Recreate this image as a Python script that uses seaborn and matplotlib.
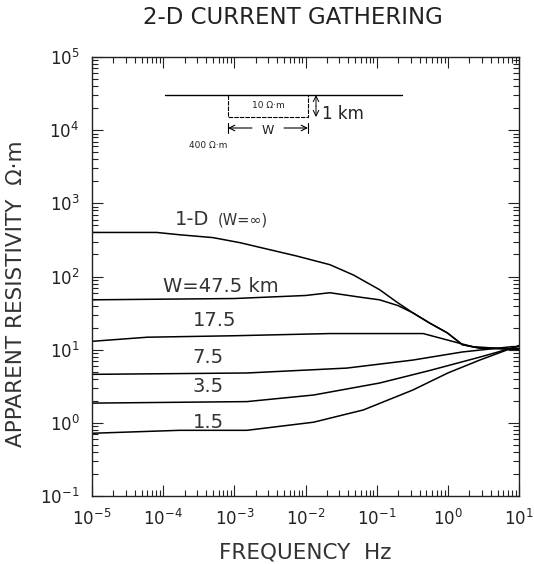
import numpy as np
import pandas as pd
import matplotlib
matplotlib.use("Agg")
import matplotlib.pyplot as plt
import seaborn as sns
from matplotlib.ticker import LogLocator, NullFormatter

# ---- data ----
f_1d = [1e-5, 8.1e-5, 1.7e-4, 5e-4, 1.2e-3, 2.5e-3, 7.6e-3, 2.2e-2, 4.7e-2,
        1.1e-1, 1.9e-1, 3.2e-1, 5.6e-1, 0.98, 1.6, 2.8, 10]
rho_1d = [400, 400, 372, 340, 290, 245, 190, 145, 105, 66, 45, 32, 23, 17,
          11.7, 10.5, 10.3]

f_475 = [1e-5, 1e-4, 1e-3, 1e-2, 2.2e-2, 6e-2, 1.1e-1, 2e-1, 3.2e-1, 5.6e-1,
         0.98, 1.6, 2.8, 10]
rho_475 = [48, 49, 50, 55, 60, 52, 48, 40, 32, 23, 17, 11.7, 10.5, 10.1]

f_175 = [1e-5, 6e-5, 1e-3, 2.2e-2, 4.5e-1, 1.0, 2.2, 10]
rho_175 = [13, 14.8, 15.5, 16.6, 16.6, 13.5, 11, 10]

f_75 = [1e-5, 1.5e-3, 3.8e-2, 3.2e-1, 1.6, 8, 10]
rho_75 = [4.6, 4.8, 5.6, 7.2, 9.3, 11, 11]

f_35 = [1e-5, 1.5e-3, 1.3e-2, 1.1e-1, 5.6e-1, 2.8, 10]
rho_35 = [1.86, 1.95, 2.4, 3.5, 5.2, 7.9, 11.2]

f_15 = [1e-5, 1.7e-4, 1.5e-3, 1.3e-2, 6.5e-2, 3.2e-1, 1.0, 2.8, 10]
rho_15 = [0.72, 0.79, 0.79, 1.02, 1.5, 2.8, 4.8, 7.2, 11.4]

curve_labels = ["1-D", "W=47.5 km", "17.5", "7.5", "3.5", "1.5"]
x_ticks = [1e-5, 1e-4, 1e-3, 1e-2, 1e-1, 1e0, 1e1]
y_ticks = [1e-1, 1e0, 1e1, 1e2, 1e3, 1e4, 1e5]

frames = []
for name, fx, ry in zip(curve_labels,
                        [f_1d, f_475, f_175, f_75, f_35, f_15],
                        [rho_1d, rho_475, rho_175, rho_75, rho_35, rho_15]):
    frames.append(pd.DataFrame({"freq": fx, "rho": ry, "curve": name}))
df = pd.concat(frames, ignore_index=True)

sns.set_style("ticks")
plt.rcParams['font.family'] = ['DejaVu Sans']

fig = plt.figure(figsize=(5.34, 5.64), dpi=100)
ax = fig.add_axes([92/534, 1-496/564, 427/534, 439/564])

sns.lineplot(data=df, x="freq", y="rho", units="curve", estimator=None,
             color="black", lw=1.1, sort=False, ax=ax, legend=False)

ax.set_xscale("log")
ax.set_yscale("log")
ax.set_xlim(1e-5, 1e1)
ax.set_ylim(1e-1, 1e5)
ax.set_xticks(x_ticks)
ax.set_yticks(y_ticks)
ax.xaxis.set_minor_locator(LogLocator(base=10, subs=np.arange(2, 10), numticks=100))
ax.yaxis.set_minor_locator(LogLocator(base=10, subs=np.arange(2, 10), numticks=100))
ax.xaxis.set_minor_formatter(NullFormatter())
ax.yaxis.set_minor_formatter(NullFormatter())
ax.tick_params(which="both", direction="in", top=True, right=True, colors="#222222",
               labelsize=12, width=0.8)
ax.tick_params(which="major", length=8, pad=9)
ax.tick_params(which="minor", length=4)
for s in ax.spines.values():
    s.set_linewidth(1.0)
    s.set_color("#222222")

ax.set_xlabel("FREQUENCY  Hz", fontsize=15.5, color="#333333")
ax.set_ylabel("APPARENT RESISTIVITY  Ω·m", fontsize=15.5, color="#333333")
ax.xaxis.set_label_coords(0.5, -0.105)
ax.yaxis.set_label_coords(-0.155, 0.46)

fig.text(0.548, 1-17/564, "2-D CURRENT GATHERING", ha="center", va="center",
         fontsize=16.5, color="#222222")

# curve labels
tk = dict(fontsize=14, color="#333333", va="center")
ax.text(1.45e-4, 10**(5-(220-57)/73.2), "1-D", **tk)
ax.text(5.9e-4, 10**(5-(220-57)/73.2), "(W=∞)", fontsize=10.5, color="#333333",
        va="center")
ax.text(1.0e-4, 10**(5-(287-57)/73.2), "W=47.5 km", **tk)
ax.text(2.6e-4, 10**(5-(321-57)/73.2), "17.5", **tk)
ax.text(2.6e-4, 10**(5-(358-57)/73.2), "7.5", **tk)
ax.text(2.6e-4, 10**(5-(387-57)/73.2), "3.5", **tk)
ax.text(2.6e-4, 10**(5-(423-57)/73.2), "1.5", **tk)

# inset model sketch (in pixel -> axes fraction)
def px(x, y):
    return ((x-92)/427, (496-y)/439)

tr = ax.transAxes
x0, y0 = px(165, 95); x1, _ = px(402, 95)
ax.plot([x0, x1], [y0, y0], color="black", lw=1.0, transform=tr)
bl, bt = px(228, 95); br, bb = px(308, 117)
ax.plot([bl, bl, br, br], [bt, bb, bb, bt], color="black", lw=0.8,
        ls=(0, (4, 1)), transform=tr)
ax.text(*px(268, 106), "10 Ω·m", fontsize=6.5, ha="center", va="center",
        transform=tr, color="#222222")
ax.annotate("", xy=px(228, 128), xytext=px(252, 128), xycoords=tr, textcoords=tr,
            arrowprops=dict(arrowstyle="->", lw=0.8, color="black", shrinkA=0, shrinkB=0))
ax.annotate("", xy=px(308, 128), xytext=px(284, 128), xycoords=tr, textcoords=tr,
            arrowprops=dict(arrowstyle="->", lw=0.8, color="black", shrinkA=0, shrinkB=0))
ax.plot([bl, bl], [px(0, 123)[1], px(0, 133)[1]], color="black", lw=0.8, transform=tr)
ax.plot([br, br], [px(0, 123)[1], px(0, 133)[1]], color="black", lw=0.8, transform=tr)
ax.text(*px(268, 130), "W", fontsize=9, ha="center", va="center",
        transform=tr, color="#222222")
ax.annotate("", xy=px(316, 95), xytext=px(316, 106), xycoords=tr, textcoords=tr,
            arrowprops=dict(arrowstyle="->", lw=0.7, color="black", shrinkA=0, shrinkB=0))
ax.annotate("", xy=px(316, 117), xytext=px(316, 106), xycoords=tr, textcoords=tr,
            arrowprops=dict(arrowstyle="->", lw=0.7, color="black", shrinkA=0, shrinkB=0))
ax.text(*px(322, 114), "1 km", fontsize=12, ha="left", va="center",
        transform=tr, color="#222222")
ax.text(*px(208, 145), "400 Ω·m", fontsize=6.5, ha="center", va="center",
        transform=tr, color="#222222")

fig.savefig("out.png", dpi=100, facecolor="white")
